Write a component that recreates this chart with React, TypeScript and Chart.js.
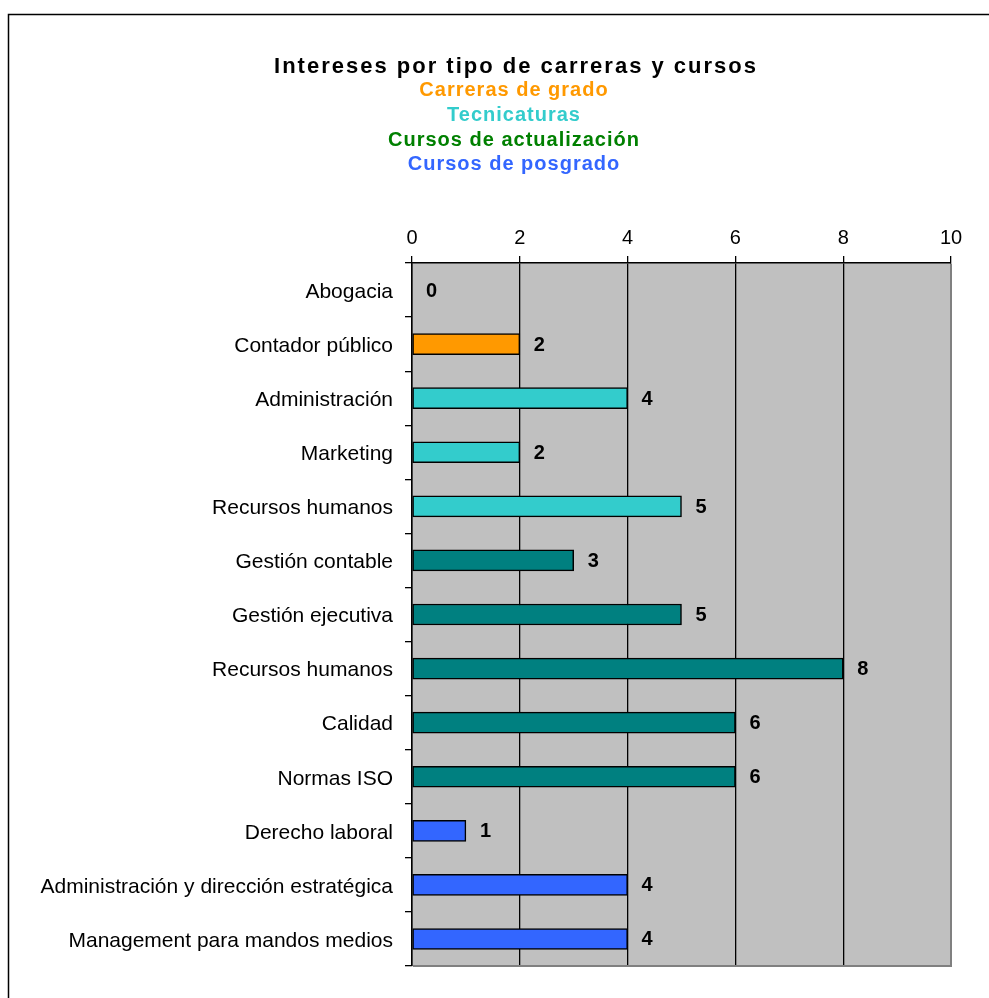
import React, { useEffect, useRef } from "react";
import { Chart, registerables } from "chart.js";

Chart.register(...registerables);

const categories = [
  "Abogacia",
  "Contador público",
  "Administración",
  "Marketing",
  "Recursos humanos",
  "Gestión contable",
  "Gestión ejecutiva",
  "Recursos humanos",
  "Calidad",
  "Normas ISO",
  "Derecho laboral",
  "Administración y dirección estratégica",
  "Management para mandos medios",
];
const values = [0, 2, 4, 2, 5, 3, 5, 8, 6, 6, 1, 4, 4];
const ORANGE = "#FF9900";
const TURQ = "#33CCCC";
const TEAL = "#008080";
const BLUE = "#3366FF";
const barColors = [ORANGE, ORANGE, TURQ, TURQ, TURQ, TEAL, TEAL, TEAL, TEAL, TEAL, BLUE, BLUE, BLUE];
const axisMin = 0;
const axisMax = 10;
const axisStep = 2;
const titleText = "Intereses por tipo de carreras y cursos";
const subtitleLines = ["Carreras de grado", "Tecnicaturas", "Cursos de actualización", "Cursos de posgrado"];
const subtitleColors = [ORANGE, TURQ, "#008000", BLUE];

const FONT = '"Liberation Sans", Arial, Helvetica, sans-serif';

export default function App() {
  const ref = useRef<HTMLCanvasElement | null>(null);

  useEffect(() => {
    document.body.style.margin = "0";
    document.body.style.overflow = "hidden";
    const canvas = ref.current;
    if (!canvas) return;

    const backgroundPlugin = {
      id: "bgPlugin",
      beforeDraw(chart: any) {
        const { ctx, chartArea } = chart;
        ctx.save();
        ctx.fillStyle = "#FFFFFF";
        ctx.fillRect(0, 0, chart.width, chart.height);
        ctx.strokeStyle = "#000000";
        ctx.lineWidth = 1.5;
        ctx.strokeRect(8.5, 14.5, 1200, 1200);
        ctx.fillStyle = "#C0C0C0";
        ctx.fillRect(chartArea.left, chartArea.top, chartArea.right - chartArea.left, chartArea.bottom - chartArea.top);
        // titles
        ctx.textAlign = "center";
        ctx.textBaseline = "alphabetic";
        ctx.fillStyle = "#000000";
        ctx.font = `bold 22px ${FONT}`;
        (ctx as any).letterSpacing = "2px";
        ctx.fillText(titleText, 516, 73);
        ctx.font = `bold 20px ${FONT}`;
        (ctx as any).letterSpacing = "1px";
        const baselines = [96, 121, 146, 170];
        subtitleLines.forEach((t, i) => {
          ctx.fillStyle = subtitleColors[i];
          ctx.fillText(t, 514, baselines[i]);
        });
        (ctx as any).letterSpacing = "0px";
        ctx.restore();
      },
    };

    const labelPlugin = {
      id: "labelPlugin",
      afterDatasetsDraw(chart: any) {
        const { ctx, chartArea } = chart;
        ctx.save();
        // gray right & bottom edges
        ctx.strokeStyle = "#808080";
        ctx.lineWidth = 2;
        ctx.beginPath();
        ctx.moveTo(chartArea.right, chartArea.top + 1);
        ctx.lineTo(chartArea.right, chartArea.bottom);
        ctx.lineTo(chartArea.left + 1, chartArea.bottom);
        ctx.stroke();
        const meta = chart.getDatasetMeta(0);
        ctx.fillStyle = "#000000";
        ctx.font = `bold 20px ${FONT}`;
        ctx.textAlign = "left";
        ctx.textBaseline = "middle";
        meta.data.forEach((el: any, i: number) => {
          ctx.fillText(String(values[i]), el.x + 14, el.y + 1);
        });
        ctx.restore();
      },
    };

    const chart = new Chart(canvas, {
      type: "bar",
      data: {
        labels: categories,
        datasets: [
          {
            data: values,
            backgroundColor: barColors,
            borderColor: "#000000",
            borderWidth: 1.5,
            borderSkipped: false,
            barThickness: 21,
          },
        ],
      },
      options: {
        indexAxis: "y",
        animation: false,
        responsive: false,
        devicePixelRatio: 1,
        layout: { padding: { top: 0, left: 0, right: 38, bottom: 32 } },
        plugins: {
          legend: { display: false },
          title: { display: false },
          tooltip: { enabled: false },
        },
        scales: {
          x: {
            position: "top",
            min: axisMin,
            max: axisMax,
            afterFit(scale: any) {
              scale.height = 263;
            },
            ticks: {
              stepSize: axisStep,
              color: "#000000",
              font: { family: FONT, size: 20 },
              padding: 6,
              maxRotation: 0,
            },
            grid: {
              color: "#000000",
              lineWidth: 1.3,
              tickLength: 7,
              drawOnChartArea: true,
            },
            border: { display: true, color: "#000000", width: 1.5 },
          },
          y: {
            afterFit(scale: any) {
              scale.width = 412;
            },
            ticks: {
              color: "#000000",
              font: { family: FONT, size: 21 },
              padding: 12,
              labelOffset: 2,
              autoSkip: false,
            },
            grid: {
              offset: true,
              color: "#000000",
              lineWidth: 1.3,
              tickLength: 7,
              drawOnChartArea: false,
            },
            border: { display: true, color: "#000000", width: 1.5 },
          },
        },
      },
      plugins: [backgroundPlugin, labelPlugin],
    });

    return () => chart.destroy();
  }, []);

  return <canvas ref={ref} width={989} height={998} style={{ display: "block", width: 989, height: 998 }} />;
}
